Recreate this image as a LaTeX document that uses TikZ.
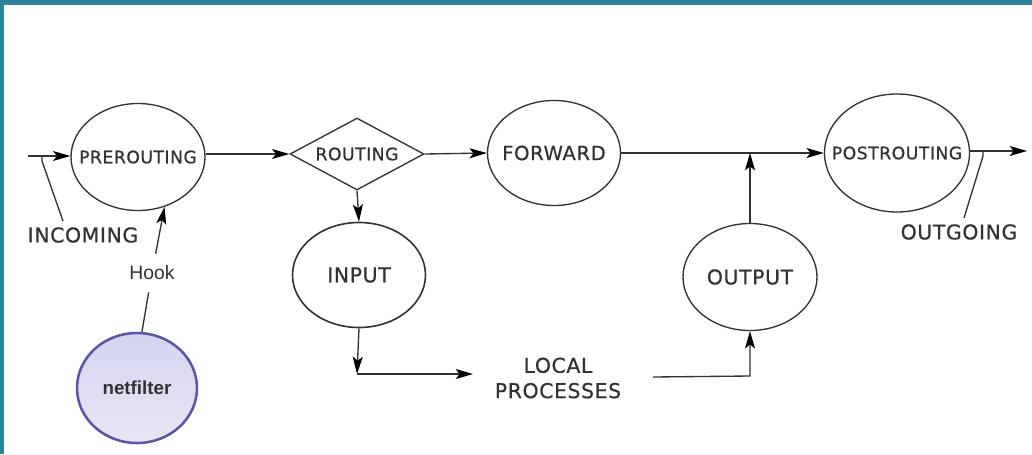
\documentclass[tikz,border=0pt]{standalone}
\usepackage{fontspec}
\usetikzlibrary{shapes.geometric,arrows.meta}
\newfontfamily\lblfont{DejaVu Sans}[LetterSpace=3,FakeBold=0.6]
\newfontfamily\hookfont{Liberation Sans}
\definecolor{frame}{RGB}{46,131,155}
\definecolor{ink}{RGB}{50,50,50}
\definecolor{nfline}{RGB}{91,87,166}
\definecolor{nftop}{RGB}{212,212,240}
\definecolor{nfbot}{RGB}{233,231,244}
\begin{document}
\begin{tikzpicture}[x=0.75pt,y=-0.75pt,
  conn/.style={draw=ink, line width=1pt},
  arr/.style={conn, -{Stealth[length=13pt,width=7.5pt,inset=3pt,color=black]}},
  big/.style={font=\lblfont\fontsize{15.3}{18}\selectfont, text=ink},
  small/.style={font=\lblfont\fontsize{12.9}{15}\selectfont, text=ink},
  hookstage/.style={ellipse, draw=ink, line width=1pt, inner sep=0pt, fill=white},
  decide/.style={diamond, aspect=1.86, draw=ink, line width=1pt, inner sep=0pt, fill=white},
  freelabel/.style={inner sep=0pt},
]
% canvas and frame
\useasboundingbox (0,0) rectangle (1032,454);
\fill[white] (0,0) rectangle (1032,454);
\fill[frame] (0,0) rectangle (1032,5);
\fill[frame] (0,0) rectangle (4,454);

% hook stages (zero-width text boxes so the outline keeps its set size)
\node[hookstage, small, minimum width=134*0.75pt, minimum height=107*0.75pt] (pre) at (138,157) {\makebox[0pt]{PREROUTING}};
\node[decide, small, minimum width=134*0.75pt, minimum height=72*0.75pt] (route) at (357,154) {\makebox[0pt]{ROUTING}};
\node[hookstage, font=\lblfont\fontsize{14.7}{17}\selectfont, text=ink, minimum width=133*0.75pt, minimum height=105*0.75pt] (fwd) at (554,153) {\makebox[0pt]{FORWARD}};
\node[hookstage, small, minimum width=145*0.75pt, minimum height=118*0.75pt] (post) at (897,153) {\makebox[0pt]{POSTROUTING}};
\node[hookstage, big, line width=1.2pt, minimum width=133*0.75pt, minimum height=105*0.75pt] (inp) at (359,275) {\makebox[0pt]{INPUT}};
\node[hookstage, big, minimum width=134*0.75pt, minimum height=107*0.75pt] (out) at (750,277) {\makebox[0pt]{OUTPUT}};

% netfilter
\node[ellipse, draw=nfline, line width=1.9pt, top color=nftop, bottom color=nfbot,
      minimum width=120*0.75pt, minimum height=110*0.75pt, inner sep=0pt,
      font=\hookfont\bfseries\fontsize{14.1}{17}\selectfont, text=ink] (nf) at (137,388) {\makebox[0pt]{netfilter}};

% free labels
\node[freelabel, big] (inc) at (83,235) {INCOMING};
\node[freelabel, big] (outg) at (959,232) {OUTGOING};
\node[big, align=center, inner sep=0pt] (lp) at (558,378) {LOCAL\\[1pt]PROCESSES};
\node[font=\hookfont\fontsize{14.5}{17}\selectfont, text=ink, inner xsep=2pt, inner ysep=9pt] (hook) at (152,273) {Hook};

% free ends
\coordinate (inS) at (28,156);
\coordinate (inTick) at (42,156);
\coordinate (incLead) at (63,221);
\coordinate (outE) at (1027,151);
\coordinate (outTick) at (983,151);
\coordinate (outgLead) at (964,218);
\coordinate (cornerL) at (357,374);
\coordinate (lpIn) at (473,374);
\coordinate (lpOut) at (653,377);
\coordinate (cornerR) at (750,376);

% packet flow
\draw[arr] (inS) -- (inS -| pre.west);
\draw[arr] (pre.east |- route.west) -- (route.west);
\draw[arr] (route.east) -- (fwd.west);
\draw[arr] (fwd.east) -- (post.west);
\draw[arr] (post.east |- outE) -- (outE);
\draw[arr] (route.south) -- (inp.north);
\draw[arr] (inp.south) -- (cornerL);
\draw[arr] (cornerL) -- (lpIn);
\draw[arr] (lpOut) -- (cornerR) -- (out);
\draw[arr] (out) -- (out |- fwd.east);

% label leaders
\draw[conn] (inTick) -- ++(0,5) -- (incLead);
\draw[conn] (outTick) -- ++(0,5) -- (outgLead);

% hook link
\draw[conn] (nf.85) -- (hook);
\draw[arr] (hook) -- (pre.298);
\end{tikzpicture}
\end{document}
